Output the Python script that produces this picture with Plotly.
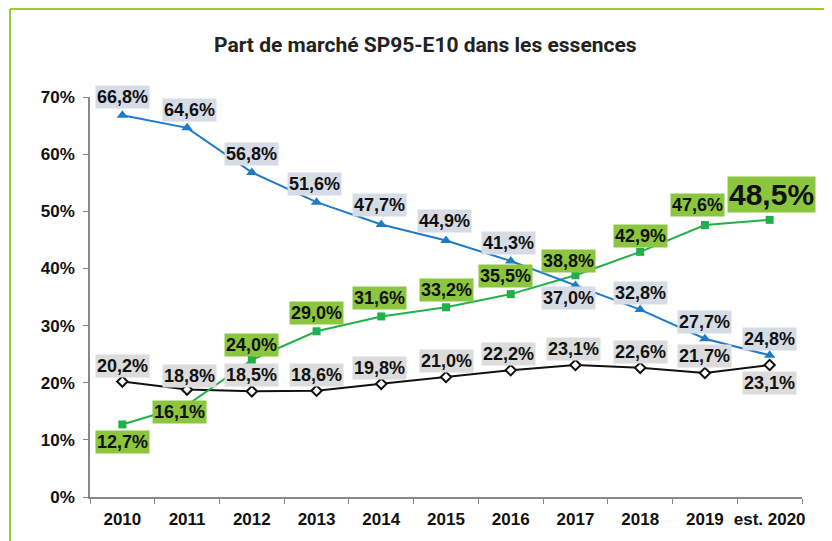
import plotly.graph_objects as go

years = ["2010", "2011", "2012", "2013", "2014", "2015", "2016", "2017", "2018", "2019", "est. 2020"]
blue_vals = [66.8, 64.6, 56.8, 51.6, 47.7, 44.9, 41.3, 37.0, 32.8, 27.7, 24.8]
green_vals = [12.7, 16.1, 24.0, 29.0, 31.6, 33.2, 35.5, 38.8, 42.9, 47.6, 48.5]
black_vals = [20.2, 18.8, 18.5, 18.6, 19.8, 21.0, 22.2, 23.1, 22.6, 21.7, 23.1]
y_ticks = [0, 10, 20, 30, 40, 50, 60, 70]
title_text = "Part de marché SP95-E10 dans les essences"

# label offsets (pixels) relative to each point
blue_off = [(0, 18), (2, 18), (0, 18), (-2, 18), (-2, 19), (-2, 19), (-2, 18), (-7, -12), (0, 17), (0, 17), (0, 16)]
green_off = [(0, -18), (-8, -7), (0, 15), (0, 18), (-2, 18), (0, 17), (-5, 18), (-7, 14), (0, 16), (-7, 20), (2, 25)]
black_off = [(0, 16), (2, 14), (0, 16), (0, 16), (-2, 16), (0, 16), (-2, 16), (-2, 16), (0, 16), (0, 17), (0, -18)]

def fmt(v):
    return f"{v:.1f}%".replace(".", ",")

fig = go.Figure()
fig.add_trace(go.Scatter(x=years, y=black_vals, mode="lines+markers",
                         line=dict(color="#111111", width=2),
                         marker=dict(symbol="diamond", size=8, color="white",
                                     line=dict(color="#111111", width=2)),
                         showlegend=False, hoverinfo="skip"))
fig.add_trace(go.Scatter(x=years, y=green_vals, mode="lines+markers",
                         line=dict(color="#22b04b", width=2),
                         marker=dict(symbol="square", size=8, color="#22b04b"),
                         showlegend=False, hoverinfo="skip"))
fig.add_trace(go.Scatter(x=years, y=blue_vals, mode="lines+markers",
                         line=dict(color="#1f7bc8", width=2),
                         marker=dict(symbol="triangle-up", size=10, color="#1f7bc8"),
                         showlegend=False, hoverinfo="skip"))

annotations = []
lab_font = dict(family="Liberation Sans, Arial", size=18, color="#111111")
for i, yv in enumerate(black_vals):
    dx, dy = black_off[i]
    annotations.append(dict(x=i, y=yv, text=f"<b>{fmt(yv)}</b>", showarrow=False,
                            xshift=dx, yshift=dy, bgcolor="#dcdcdc", font=lab_font, borderpad=1))
for i, yv in enumerate(blue_vals):
    dx, dy = blue_off[i]
    annotations.append(dict(x=i, y=yv, text=f"<b>{fmt(yv)}</b>", showarrow=False,
                            xshift=dx, yshift=dy, bgcolor="#d6dce6", font=lab_font, borderpad=1))
for i, yv in enumerate(green_vals):
    dx, dy = green_off[i]
    big = i == len(green_vals) - 1
    f = dict(lab_font, size=30) if big else lab_font
    annotations.append(dict(x=i, y=yv, text=f"<b>{fmt(yv)}</b>", showarrow=False,
                            xshift=dx, yshift=dy, bgcolor="#8cc63e", font=f, borderpad=1))

annotations.append(dict(xref="paper", yref="paper", x=(425 - 90) / 712, y=(497 - 45) / 400,
                        text=f"<b>{title_text}</b>", showarrow=False,
                        font=dict(family="Roboto", size=21, color="#222222"),
                        xanchor="center", yanchor="middle"))

border = "#9acd2a"
top_y = (400 + 89 - 1) / 400
shapes = [
    dict(type="line", xref="paper", yref="paper", x0=(10 - 90) / 712, x1=(840 - 90) / 712,
         y0=top_y, y1=top_y, line=dict(color=border, width=2)),
    dict(type="line", xref="paper", yref="paper", x0=(10 - 90) / 712, x1=(10 - 90) / 712,
         y0=top_y, y1=(497 - 545) / 400, line=dict(color=border, width=2)),
]

tick_font = dict(family="Liberation Sans, Arial", size=17, color="#111111")
fig.update_layout(
    width=824, height=533,
    margin=dict(l=82, r=30, t=89, b=44),
    paper_bgcolor="white", plot_bgcolor="white",
    annotations=annotations, shapes=shapes,
    xaxis=dict(type="category", range=[-0.5, 10.5], tickson="boundaries",
               ticks="outside", ticklen=5, tickcolor="#888888", tickangle=0,
               automargin=False, ticklabelstandoff=6,
               showline=True, linecolor="#888888", linewidth=1.5, showgrid=False,
               tickfont=tick_font,
               tickvals=years, ticktext=[f"<b>{y}</b>" for y in years]),
    yaxis=dict(range=[0, 70], tickvals=y_ticks, ticktext=[f"<b>{v}%</b>" for v in y_ticks],
               ticks="outside", ticklen=5, tickcolor="#888888", automargin=False,
               ticklabelstandoff=5,
               showline=True, linecolor="#888888", linewidth=1.5, showgrid=False,
               zeroline=False, tickfont=tick_font),
)

fig.write_html("out.html")
